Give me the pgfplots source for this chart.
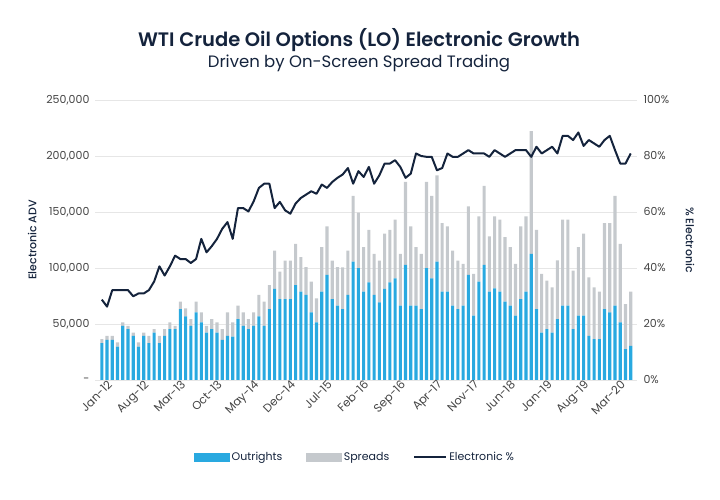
\documentclass[border=0pt]{standalone}
\usepackage{pgfplots}
\usepackage{pgfplotstable}
\pgfplotsset{compat=1.18}
\usepackage{fontspec}
\setmainfont{Poppins}
\definecolor{outblue}{HTML}{29A9E0}
\definecolor{sprgray}{HTML}{C5C9CD}
\definecolor{navy}{HTML}{14233C}
\definecolor{ticktext}{HTML}{444444}
\definecolor{gridc}{HTML}{E6E6E6}

\pgfplotstableread{
x out spr pct
0 32900 3500 28.7
1 35800 3600 26.2
2 35800 3600 32.1
3 29900 3600 32.1
4 48400 3000 32.1
5 45400 3000 32.1
6 39400 3000 29.9
7 29900 3600 30.9
8 39400 3000 30.9
9 32900 6500 32.1
10 42400 3000 35.2
11 32900 6500 40.6
12 39400 6000 37.3
13 45400 6000 40.6
14 45400 3000 44.4
15 63300 6600 43.2
16 56800 7200 43.2
17 48400 6000 41.8
18 60300 9600 43.2
19 51400 9000 50.4
20 42400 6000 45.6
21 45400 9000 47.8
22 42400 9000 50.4
23 35800 9600 54.0
24 39400 20900 56.4
25 38800 12600 50.4
26 54400 11900 61.4
27 48400 12000 61.4
28 45400 9000 60.2
29 48400 12000 63.8
30 56800 19100 68.6
31 48400 21500 70.1
32 63300 21500 70.1
33 81300 34300 61.4
34 72300 24500 63.6
35 72300 34300 60.6
36 72300 34300 59.4
37 84800 36700 63.0
38 78900 30700 65.0
39 75900 24800 66.2
40 60300 27500 67.4
41 51400 21500 66.5
42 78900 39700 69.8
43 93800 43300 68.6
44 72300 34300 70.7
45 66300 34400 72.2
46 63300 37300 73.4
47 75900 39700 75.7
48 105700 58600 70.1
49 99800 49600 74.6
50 78900 39700 72.5
51 87200 46900 76.1
52 75900 36700 70.1
53 69300 37300 73.1
54 81300 49300 77.3
55 87200 46900 77.3
56 90800 52300 78.5
57 66300 46300 76.1
58 102800 74100 72.2
59 66300 70800 73.7
60 66300 52300 80.9
61 63300 49300 80.0
62 99800 77100 79.7
63 90800 73500 79.7
64 105700 77100 74.9
65 78900 61200 75.7
66 78900 58200 80.9
67 66300 49300 79.7
68 63300 43300 79.7
69 66300 37300 80.9
70 93800 61200 82.1
71 57400 37300 80.9
72 87800 58200 80.9
73 102800 70500 80.9
74 78900 49300 79.7
75 81800 64200 82.1
76 78900 64200 80.9
77 69900 57700 79.7
78 66300 52300 80.9
79 57400 46300 82.1
80 72300 64800 82.1
81 78900 67200 82.1
82 112600 109600 79.7
83 63300 70800 83.3
84 42400 52300 80.9
85 45400 43300 82.1
86 42400 40300 83.3
87 54400 52300 80.9
88 66300 76800 87.2
89 66300 76800 87.2
90 45400 52300 85.7
91 57400 61200 88.4
92 57400 73200 83.6
93 39400 52300 85.7
94 36400 46300 84.5
95 36400 42500 83.3
96 63300 76800 85.7
97 60300 79800 87.2
98 66300 98000 82.1
99 51400 70200 77.3
100 27500 40300 77.3
101 30500 48400 80.9
}\datatable

\begin{document}
\begin{tikzpicture}
\path[use as bounding box] (-95pt,-120pt) rectangle (625pt,380pt);
\begin{axis}[
  scale only axis, width=542pt, height=280pt,
  xmin=-1.3, xmax=102.2, ymin=0, ymax=250000,
  scaled y ticks=false,
  ybar stacked, bar width=3.1pt,
  axis y line*=left, axis x line*=bottom,
  axis line style={draw=none}, major tick style={draw=none},
  ymajorgrids, grid style={gridc, line width=0.9pt},
  ytick={0,50000,100000,150000,200000,250000},
  yticklabels={{-},{50,000},{100,000},{150,000},{200,000},{250,000}},
  xtick={0,7,...,98},
  xticklabels={Jan-12,Aug-12,Mar-13,Oct-13,May-14,Dec-14,Jul-15,Feb-16,Sep-16,Apr-17,Nov-17,Jun-18,Jan-19,Aug-19,Mar-20},
  x tick label style={rotate=45, anchor=north east, font=\fontsize{11.5}{13}\selectfont, text=ticktext, inner sep=1pt, xshift=5pt, yshift=-2pt},
  y tick label style={font=\fontsize{11}{13}\selectfont, text=ticktext},
  yticklabel style={xshift=-2pt},
  ylabel={Electronic ADV},
  ylabel style={at={(axis description cs:-0.116,0.5)}, anchor=center, font=\fontsize{11}{13}\selectfont\fontspec{Poppins Medium}, text=navy},
  /pgf/number format/assume math mode=true,
  clip=false,
]
\addplot[fill=outblue, draw=none] table[x=x, y=out] {\datatable};
\addplot[fill=sprgray, draw=none] table[x=x, y=spr] {\datatable};
\end{axis}
\begin{axis}[
  scale only axis, width=542pt, height=280pt,
  xmin=-1.3, xmax=102.2, ymin=0, ymax=100,
  axis y line*=right, axis x line=none,
  axis line style={draw=none}, major tick style={draw=none},
  ytick={0,20,40,60,80,100},
  yticklabel={\pgfmathprintnumber{\tick}\%},
  y tick label style={font=\fontsize{11}{13}\selectfont, text=ticktext, anchor=west, xshift=3pt},
  ylabel={\% Electronic},
  ylabel style={at={(axis description cs:1.098,0.5)}, anchor=center, rotate=180, font=\fontsize{11}{13}\selectfont\fontspec{Poppins Medium}, text=navy},
  /pgf/number format/assume math mode=true,
  legend columns=3,
  legend style={draw=none, fill=none, at={(axis description cs:0.48,-0.275)}, anchor=center,
    font=\fontsize{11}{13}\selectfont, text=navy,
    /tikz/every even column/.append style={column sep=22pt}},
  clip=false,
]
\addlegendimage{legend image code/.code={\fill[outblue] (0pt,-4pt) rectangle (35pt,4pt);}}
\addlegendentry{Outrights}
\addlegendimage{legend image code/.code={\fill[sprgray] (0pt,-4pt) rectangle (35pt,4pt);}}
\addlegendentry{Spreads}
\addplot[navy, line width=2pt, line join=round, legend image code/.code={\draw[navy, line width=2pt] (0pt,0pt) -- (32pt,0pt);}] table[x=x, y=pct] {\datatable};
\addlegendentry{Electronic \%}
\end{axis}
\node[font=\fontsize{19.5}{22}\selectfont\fontspec{Poppins SemiBold}, text=navy] at (264pt,340pt) {WTI Crude Oil Options (LO) Electronic Growth};
\node[font=\fontsize{16.5}{19}\selectfont, text=navy] at (264pt,317pt) {Driven by On-Screen Spread Trading};
\end{tikzpicture}
\end{document}
